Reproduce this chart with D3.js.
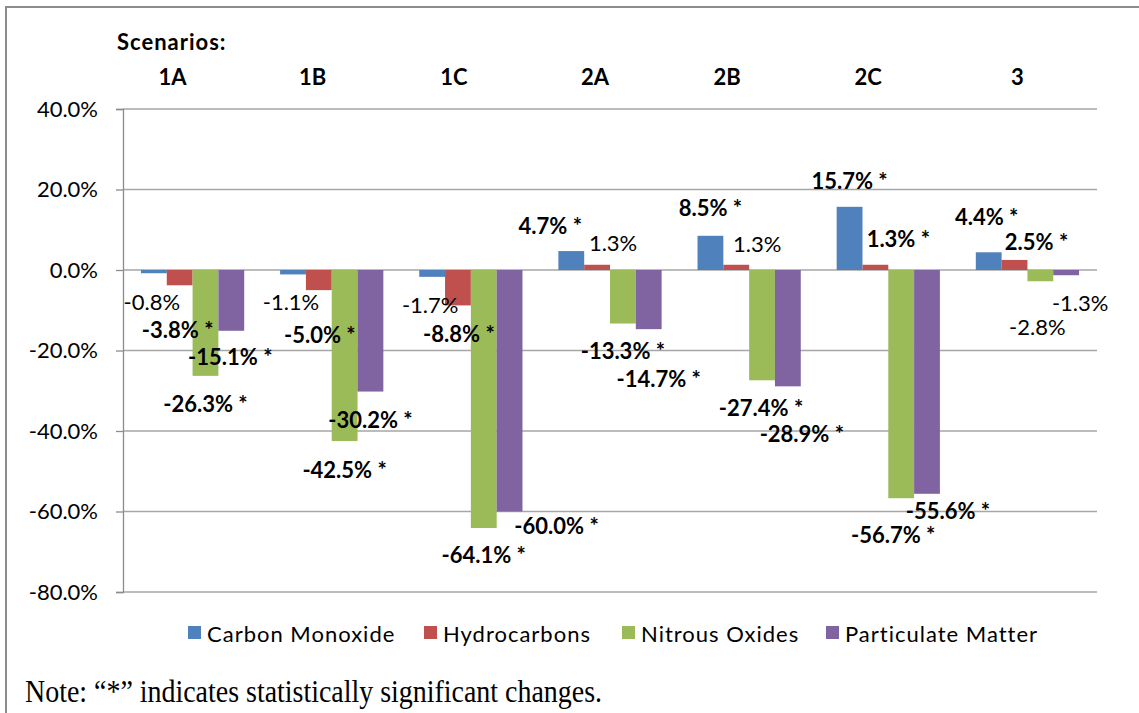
<!DOCTYPE html>
<html>
<head>
<meta charset="utf-8">
<script src="https://cdn.jsdelivr.net/npm/d3@7"></script>
<style>
  html, body { margin: 0; padding: 0; background: #fff; }
  svg { display: block; }
  text { font-family: Lato, "Open Sans", sans-serif; fill: #000; }
</style>
</head>
<body>
<svg id="chart" width="1139" height="713"></svg>
<script>
// ---- data ----
const scenarios = ["1A", "1B", "1C", "2A", "2B", "2C", "3"];
const seriesNames = ["Carbon Monoxide", "Hydrocarbons", "Nitrous Oxides", "Particulate Matter"];
const carbonMonoxide    = [-0.8, -1.1, -1.7, 4.7, 8.5, 15.7, 4.4];
const hydrocarbons      = [-3.8, -5.0, -8.8, 1.3, 1.3, 1.3, 2.5];
const nitrousOxides     = [-26.3, -42.5, -64.1, -13.3, -27.4, -56.7, -2.8];
const particulateMatter = [-15.1, -30.2, -60.0, -14.7, -28.9, -55.6, -1.3];
const sigCarbonMonoxide    = [false, false, false, true, true, true, true];
const sigHydrocarbons      = [true, true, true, false, false, true, true];
const sigNitrousOxides     = [true, true, true, true, true, true, false];
const sigParticulateMatter = [true, true, true, true, true, true, false];
const yTickValues = [40, 20, 0, -20, -40, -60, -80];
const noteText = "Note: \u201c*\u201d indicates statistically significant changes.";

// ---- layout (label offsets relative to bar end, px) ----
const labelOffsets = [
  [[-2, 28], [-2, 27], [-2, 28], [-21, -26], [0, -28], [0, -26], [-2, -36]],
  [[-2, 44], [1, 44], [1, 28], [16, -22], [21, -21], [23, -26], [22, -18]],
  [[0, 28], [0, 28], [0, 26], [0, 27], [-1, 27], [-8, 36], [-3, 45]],
  [[-1, 26], [0, 28], [47, 14], [10, 49], [14, 47], [21, 17], [14, 27]]
];
const scenarioLabelShift = [-20, -19, -17, -15, -22, -20, -10];

const values = [carbonMonoxide, hydrocarbons, nitrousOxides, particulateMatter];
const sigs = [sigCarbonMonoxide, sigHydrocarbons, sigNitrousOxides, sigParticulateMatter];
const colors = ["#4F81BD", "#C0504D", "#9BBB59", "#8064A2"];

const locale = d3.formatLocale({ decimal: ".", thousands: ",", grouping: [3], currency: ["", ""], minus: "-" });
const fmt = locale.format(".1f");

const svg = d3.select("#chart");
const W = 1139, H = 713;
const plot = { left: 123, right: 1097, top: 109, bottom: 592 };

// chart border
svg.append("path")
  .attr("d", `M6,${H + 5} L6,7 L${W + 5},7`)
  .attr("fill", "none").attr("stroke", "#8c8c8c").attr("stroke-width", 2);

const y = d3.scaleLinear().domain([-80, 40]).range([plot.bottom, plot.top]);
const pad = 0.258;
const x0 = d3.scaleBand().domain(scenarios).range([plot.left, plot.right])
  .paddingInner(pad).paddingOuter(pad / 2);
const x1 = d3.scaleBand().domain(d3.range(4)).range([0, x0.bandwidth()]);

// grid lines
svg.append("g").selectAll("line").data(yTickValues).join("line")
  .attr("x1", plot.left).attr("x2", plot.right)
  .attr("y1", d => y(d)).attr("y2", d => y(d))
  .attr("stroke", "#a6a6a6").attr("stroke-width", 1.3);

// y axis
const yAxis = d3.axisLeft(y).tickValues(yTickValues).tickSize(7).tickPadding(18)
  .tickFormat(d => fmt(d) + "%");
const gy = svg.append("g").attr("transform", `translate(${plot.left},0)`).call(yAxis);
gy.select(".domain").attr("stroke", "#8c8c8c").attr("stroke-width", 1.3);
gy.selectAll(".tick line").attr("stroke", "#8c8c8c").attr("stroke-width", 1.3);
gy.selectAll(".tick text").attr("font-size", 22).attr("font-family", "Lato").attr("fill", "#000");

// bars
const bars = svg.append("g");
values.forEach((vals, s) => {
  bars.selectAll(null).data(vals).join("rect")
    .attr("x", (d, i) => x0(scenarios[i]) + x1(s))
    .attr("width", x1.bandwidth())
    .attr("y", d => Math.min(y(d), y(0)))
    .attr("height", d => Math.abs(y(d) - y(0)))
    .attr("fill", colors[s]);
});

// data labels
const labels = svg.append("g");
values.forEach((vals, s) => {
  labels.selectAll(null).data(vals).join("text")
    .attr("x", (d, i) => x0(scenarios[i]) + x1(s) + x1.bandwidth() / 2 + labelOffsets[s][i][0])
    .attr("y", (d, i) => y(d) + labelOffsets[s][i][1])
    .attr("text-anchor", "middle")
    .attr("dominant-baseline", "central")
    .attr("font-size", 22)
    .attr("font-weight", (d, i) => sigs[s][i] ? "bold" : "normal")
    .text((d, i) => fmt(d) + "%" + (sigs[s][i] ? " *" : ""));
});

// scenario header
svg.append("text").attr("x", 117).attr("y", 41)
  .attr("dominant-baseline", "central")
  .attr("font-size", 22).attr("font-weight", "bold").attr("letter-spacing", 1)
  .text("Scenarios:");
svg.append("g").selectAll("text").data(scenarios).join("text")
  .attr("x", (d, i) => x0(d) + x0.bandwidth() / 2 + scenarioLabelShift[i])
  .attr("y", 76)
  .attr("text-anchor", "middle").attr("dominant-baseline", "central")
  .attr("font-size", 22).attr("font-weight", "bold")
  .text(d => d);

// legend
const legendX = [188, 424, 622, 826];
const lg = svg.append("g");
seriesNames.forEach((name, s) => {
  lg.append("rect").attr("x", legendX[s]).attr("y", 626).attr("width", 13).attr("height", 13)
    .attr("fill", colors[s]);
  lg.append("text").attr("x", legendX[s] + 19).attr("y", 633)
    .attr("dominant-baseline", "central").attr("font-size", 22).attr("letter-spacing", 1)
    .text(name);
});

// note
svg.append("text").attr("x", 25).attr("y", 702)
  .attr("style", "font-family:'Liberation Serif','Times New Roman',serif")
  .attr("font-size", 31)
  .attr("textLength", 577).attr("lengthAdjust", "spacingAndGlyphs")
  .text(noteText);
</script>
</body>
</html>
